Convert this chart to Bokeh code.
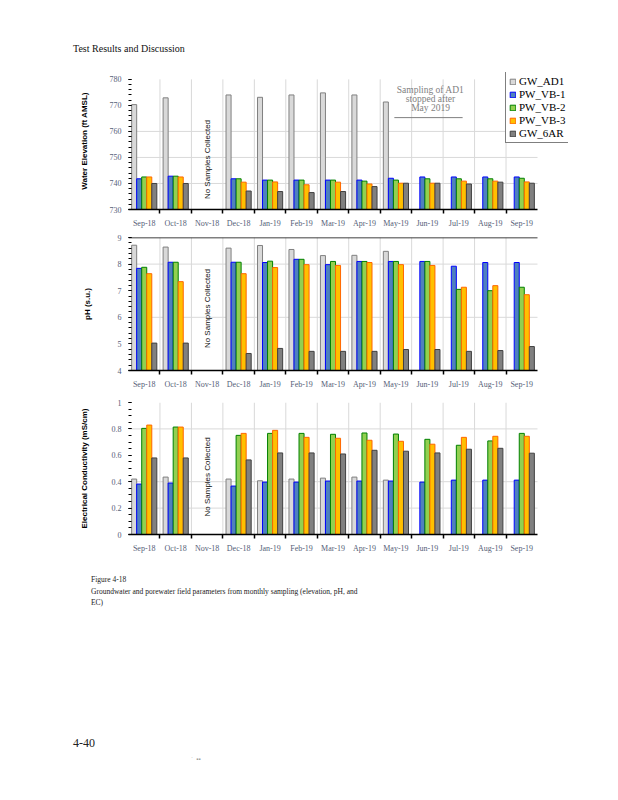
import numpy as np
from bokeh.plotting import figure
from bokeh.models import (Range1d, FixedTicker, SingleIntervalTicker, Label,
                          Div, ColumnDataSource)
from bokeh.layouts import column
from bokeh.core.properties import value
from bokeh.embed import file_html
from bokeh.resources import INLINE

nan = float("nan")

months = ["Sep-18", "Oct-18", "Nov-18", "Dec-18", "Jan-19", "Feb-19", "Mar-19",
          "Apr-19", "May-19", "Jun-19", "Jul-19", "Aug-19", "Sep-19"]
series_names = ["GW_AD1", "PW_VB-1", "PW_VB-2", "PW_VB-3", "GW_6AR"]

# Water elevation (ft AMSL)
elev_gw_ad1 = [770.3, 772.9, nan, 774.0, 773.1, 774.0, 774.8, 774.0, 771.3, nan, nan, nan, nan]
elev_pw_vb1 = [741.8, 742.8, nan, 741.8, 741.3, 741.3, 741.3, 741.3, 742.0, 742.5, 742.5, 742.5, 742.5]
elev_pw_vb2 = [742.5, 742.8, nan, 741.8, 741.3, 741.3, 741.3, 740.9, 741.3, 741.8, 741.8, 741.8, 742.0]
elev_pw_vb3 = [742.5, 742.5, nan, 740.5, 740.6, 739.5, 740.5, 739.8, 740.1, 740.1, 740.9, 740.9, 740.6]
elev_gw_6ar = [740.0, 740.0, nan, 737.1, 736.9, 736.5, 736.9, 738.8, 740.1, 740.1, 739.8, 740.5, 740.1]

# pH (s.u.)
ph_gw_ad1 = [8.71, 8.64, nan, 8.60, 8.70, 8.55, 8.32, 8.33, 8.48, nan, nan, nan, nan]
ph_pw_vb1 = [7.84, 8.07, nan, 8.07, 8.06, 8.18, 7.98, 8.10, 8.10, 8.10, 7.92, 8.06, 8.06]
ph_pw_vb2 = [7.88, 8.07, nan, 8.07, 8.11, 8.18, 8.10, 8.10, 8.10, 8.10, 7.05, 7.00, 7.13]
ph_pw_vb3 = [7.64, 7.34, nan, 7.64, 7.87, 7.98, 7.95, 8.06, 7.98, 7.95, 7.13, 7.19, 6.85]
ph_gw_6ar = [5.03, 5.03, nan, 4.64, 4.83, 4.72, 4.72, 4.72, 4.79, 4.79, 4.72, 4.75, 4.90]

# Electrical conductivity (mS/cm)
ec_gw_ad1 = [0.420, 0.435, nan, 0.420, 0.407, 0.420, 0.427, 0.435, 0.412, nan, nan, nan, nan]
ec_pw_vb1 = [0.382, 0.390, nan, 0.367, 0.397, 0.397, 0.405, 0.405, 0.405, 0.397, 0.412, 0.412, 0.412]
ec_pw_vb2 = [0.804, 0.814, nan, 0.751, 0.766, 0.766, 0.759, 0.769, 0.761, 0.721, 0.676, 0.709, 0.766]
ec_pw_vb3 = [0.829, 0.814, nan, 0.766, 0.789, 0.736, 0.729, 0.714, 0.706, 0.684, 0.736, 0.744, 0.744]
ec_gw_6ar = [0.580, 0.580, nan, 0.565, 0.618, 0.618, 0.610, 0.638, 0.631, 0.618, 0.646, 0.653, 0.616]

fill_colors = ["#d9d9d9", "#4f81bd", "#92d050", "#ffc000", "#808080"]
line_colors = ["#808080", "#0000ff", "#008000", "#ff6600", "#404040"]
offsets = [-0.32, -0.16, 0.0, 0.16, 0.32]
BAR_W = 0.16

TICK_COLOR = "#555e78"
GRID_COLOR = "#d9d9d9"
SERIF = "Liberation Serif"
SANS = "Liberation Sans"

n = len(months)
centers = [i + 0.5 for i in range(n)]
bounds = [float(i) for i in range(1, n)]

FIG_W = 608
BORDER_L = 128
BORDER_R = 40                 # frame reaches under the legend
CAT_PX = 409 / n              # pixel width of one month
X_END = (FIG_W - BORDER_L - BORDER_R) / CAT_PX


def make_panel(data, lo, hi, interval, n_minor, grid_ticks, ylabel, height,
               top, bottom, label_standoff, nosample_y, legend=False,
               extra_top=0, top_line=False):
    frame_h = height - top - bottom
    y_end = hi + (hi - lo) * extra_top / (frame_h - extra_top)
    p = figure(width=FIG_W, height=height, x_range=Range1d(0, X_END),
               y_range=Range1d(lo, y_end),
               min_border_left=BORDER_L, min_border_right=BORDER_R,
               min_border_top=top, min_border_bottom=bottom,
               output_backend="svg", toolbar_location=None)
    p.outline_line_color = None
    p.background_fill_color = "white"
    p.border_fill_color = "white"
    p.xgrid.visible = False
    p.ygrid.visible = False

    # grid lines, limited to the chart area
    p.segment(x0=bounds, y0=[lo] * len(bounds), x1=bounds, y1=[hi] * len(bounds),
              line_color=GRID_COLOR, line_width=1, level="underlay")
    p.segment(x0=[0] * len(grid_ticks), y0=grid_ticks, x1=[n] * len(grid_ticks),
              y1=grid_ticks, line_color=GRID_COLOR, line_width=1, level="underlay")
    if top_line:
        p.segment(x0=[0], y0=[hi], x1=[n], y1=[hi], line_color="black", line_width=1.5)

    for k, vals in enumerate(data):
        src = ColumnDataSource(dict(x=np.array(centers) + offsets[k],
                                    top=np.array(vals, dtype=float)))
        kw = dict(legend_label=series_names[k]) if legend else {}
        p.vbar(x="x", top="top", bottom=lo, width=BAR_W, source=src,
               fill_color=fill_colors[k], line_color=line_colors[k], line_width=1, **kw)

    # x axis
    xa = p.xaxis[0]
    xa.bounds = (0, n)
    xa.ticker = FixedTicker(ticks=centers, minor_ticks=bounds)
    xa.major_label_overrides = {c: m for c, m in zip(centers, months)}
    xa.axis_line_color = "black"
    xa.axis_line_width = 1.5
    xa.major_tick_line_color = None
    xa.major_tick_in = 0
    xa.major_tick_out = 0
    xa.minor_tick_in = 0
    xa.minor_tick_out = 4
    xa.minor_tick_line_color = "black"
    xa.minor_tick_line_width = 1.5
    xa.major_label_standoff = 5
    xa.major_label_text_font = SERIF
    xa.major_label_text_font_size = "8px"
    xa.major_label_text_color = TICK_COLOR

    # y axis
    ya = p.yaxis[0]
    ya.bounds = (lo, hi)
    ya.ticker = SingleIntervalTicker(interval=interval, num_minor_ticks=n_minor)
    ya.axis_line_color = None
    ya.major_tick_in = 3
    ya.major_tick_out = 0
    ya.minor_tick_in = 3
    ya.minor_tick_out = 0
    ya.major_tick_line_color = "black"
    ya.minor_tick_line_color = "black"
    ya.major_label_standoff = 7
    ya.major_label_text_font = SERIF
    ya.major_label_text_font_size = "8px"
    ya.major_label_text_color = TICK_COLOR
    ya.axis_label = ylabel
    ya.axis_label_text_font = SANS
    ya.axis_label_text_font_size = "8px"
    ya.axis_label_text_font_style = "bold"
    ya.axis_label_text_color = "black"
    ya.axis_label_standoff = label_standoff

    # "No Samples Collected" in Nov-18 column
    p.text(x=[centers[2]], y=[nosample_y], text=["No Samples Collected"],
           angle=np.pi / 2, text_align="center", text_baseline="middle",
           text_font=value(SANS), text_font_size="8px", text_color="#111111")
    return p


p1 = make_panel([elev_gw_ad1, elev_pw_vb1, elev_pw_vb2, elev_pw_vb3, elev_gw_6ar],
                730, 780, 10, 5, [740, 750, 760], "Water Elevation (ft AMSL)",
                160, 2, 18, 18, 749.2, legend=True, extra_top=7)
p1.legend.location = (377, 66)
p1.legend.border_line_color = "black"
p1.legend.border_line_width = 1
p1.legend.background_fill_color = "white"
p1.legend.background_fill_alpha = 1
p1.legend.label_text_font = SERIF
p1.legend.label_text_font_size = "11px"
p1.legend.label_text_color = "black"
p1.legend.glyph_width = 7
p1.legend.glyph_height = 7
p1.legend.label_height = 10
p1.legend.label_standoff = 3
p1.legend.spacing = 1
p1.legend.padding = 3
p1.legend.margin = 0

for txt, yy in [("Sampling of AD1", 775.9), ("stopped after", 772.5), ("May 2019", 769.1)]:
    p1.add_layout(Label(x=9.6, y=yy, text=txt, text_align="center", text_baseline="middle",
                        text_font=SERIF, text_font_size="9.5px", text_color="#7f7f7f"))
p1.segment(x0=[8.45], y0=[765.3], x1=[10.62], y1=[765.3], line_color="#7f7f7f", line_width=1)

p2 = make_panel([ph_gw_ad1, ph_pw_vb1, ph_pw_vb2, ph_pw_vb3, ph_gw_6ar],
                4, 9, 1, 5, [6, 8], "pH (s.u.)", 162, 7, 22, 23, 6.33, top_line=True)

p3 = make_panel([ec_gw_ad1, ec_pw_vb1, ec_pw_vb2, ec_pw_vb3, ec_gw_6ar],
                0, 1, 0.2, 4, [0.2, 0.4, 0.8], "Electrical Conductivity (mS/cm)",
                163, 10, 20, 20, 0.436)
p3.yaxis[0].major_label_overrides = {0: "0", 1: "1"}

header = Div(text=(
    '<div style="position:relative;width:608px;height:70px;">'
    '<div style="position:absolute;left:73px;top:43px;font-family:\'Liberation Serif\';'
    'font-size:10px;line-height:12px;color:#111;white-space:nowrap;">'
    'Test Results and Discussion</div></div>'),
    width=FIG_W, height=70, margin=(0, 0, 0, 0))

cap_style = ("position:absolute;left:91px;font-family:'Liberation Serif';font-size:7.5px;"
             "line-height:10px;color:#222;white-space:nowrap;")
footer = Div(text=(
    '<div style="position:relative;width:608px;height:228px;">'
    f'<div style="{cap_style}top:20px;">Figure 4-18</div>'
    f'<div style="{cap_style}top:32px;">Groundwater and porewater field parameters from '
    'monthly sampling (elevation, pH, and</div>'
    f'<div style="{cap_style}top:43px;">EC)</div>'
    '<div style="position:absolute;left:73px;top:181px;font-family:\'Liberation Serif\';'
    'font-size:12px;line-height:14px;color:#222;white-space:nowrap;">4-40</div>'
    '<div style="position:absolute;left:191px;top:200px;font-family:\'Liberation Sans\';'
    'font-size:6px;line-height:8px;color:#999;white-space:nowrap;">\u02c8 &nbsp;\u25aa\u25aa</div>'
    '</div>'),
    width=FIG_W, height=228, margin=(0, 0, 0, 0))

layout = column(header, p1, p2, p3, footer, spacing=0)

open("out.html", "w").write(file_html(layout, INLINE))
